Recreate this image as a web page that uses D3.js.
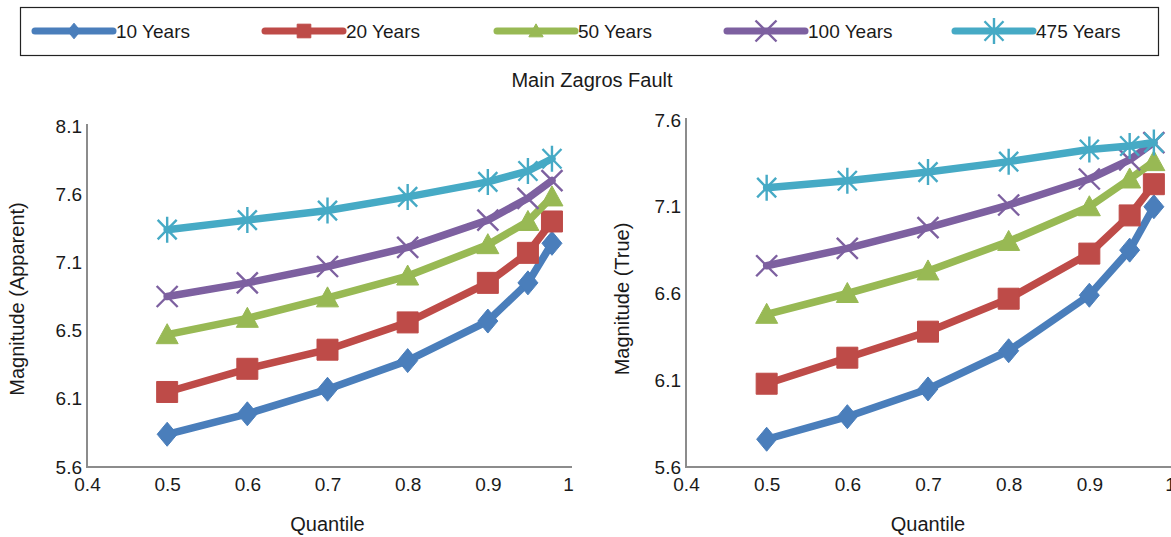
<!DOCTYPE html>
<html>
<head>
<meta charset="utf-8">
<script src="https://cdn.jsdelivr.net/npm/d3@7/dist/d3.min.js"></script>
<style>
  html, body { margin: 0; padding: 0; background: #fff; }
  svg { display: block; font-family: "Liberation Sans", Arial, sans-serif; }
</style>
</head>
<body>
<svg id="chart" width="1171" height="537"></svg>
<script>
// ---------- DATA ----------
const quantiles = [0.5, 0.6, 0.7, 0.8, 0.9, 0.95, 0.98];
const seriesNames = ["10 Years", "20 Years", "50 Years", "100 Years", "475 Years"];

// Left panel: Magnitude (Apparent)
const apparent10  = [5.84, 5.99, 6.17, 6.38, 6.67, 6.95, 7.24];
const apparent20  = [6.15, 6.32, 6.46, 6.66, 6.95, 7.17, 7.40];
const apparent50  = [6.57, 6.69, 6.84, 7.00, 7.23, 7.40, 7.58];
const apparent100 = [6.85, 6.95, 7.07, 7.21, 7.41, 7.57, 7.70];
const apparent475 = [7.34, 7.41, 7.48, 7.58, 7.69, 7.77, 7.86];

// Right panel: Magnitude (True)
const true10  = [5.76, 5.89, 6.05, 6.27, 6.59, 6.85, 7.10];
const true20  = [6.08, 6.23, 6.38, 6.57, 6.83, 7.05, 7.23];
const true50  = [6.48, 6.60, 6.73, 6.90, 7.10, 7.26, 7.36];
const true100 = [6.76, 6.86, 6.98, 7.11, 7.26, 7.37, 7.47];
const true475 = [7.21, 7.25, 7.30, 7.36, 7.43, 7.45, 7.47];

// Tick labels
const xTicks = [0.4, 0.5, 0.6, 0.7, 0.8, 0.9, 1.0];
const xTickLabels = ["0.4", "0.5", "0.6", "0.7", "0.8", "0.9", "1"];
const leftYTicks = [5.6, 6.1, 6.6, 7.1, 7.6, 8.1];
const leftYTickLabels = ["5.6", "6.1", "6.5", "7.1", "7.6", "8.1"];
const rightYTicks = [5.6, 6.1, 6.6, 7.1, 7.6];
const rightYTickLabels = ["5.6", "6.1", "6.6", "7.1", "7.6"];

const title = "Main Zagros Fault";
const xTitle = "Quantile";
const leftYTitle = "Magnitude (Apparent)";
const rightYTitle = "Magnitude (True)";

// ---------- STYLE ----------
const colors = ["#4a7ebb", "#be4b48", "#98b954", "#7d60a0", "#46aac5"];
const markerKinds = ["diamond", "square", "triangle", "x", "asterisk"];
const axisColor = "#8c8c8c";
const textColor = "#1a1a1a";
const tickFont = 19;

const svg = d3.select("#chart");

function markerPath(kind, s) {
  switch (kind) {
    case "diamond": { const w = 10 * s, h = 12 * s; return `M0,${-h}L${w},0L0,${h}L${-w},0Z`; }
    case "square": { const a = 10.5 * s; return `M${-a},${-a}H${a}V${a}H${-a}Z`; }
    case "triangle": { const w = 11 * s, h = 10 * s; return `M0,${-h * 1.1}L${w},${h * 0.9}L${-w},${h * 0.9}Z`; }
    case "x": { const a = 10.5 * s; return `M${-a},${-a}L${a},${a}M${-a},${a}L${a},${-a}`; }
    case "asterisk": { const a = 9.5 * s, h = 13 * s; return `M0,${-h}V${h}M${-a},${-h * 0.75}L${a},${h * 0.75}M${-a},${h * 0.75}L${a},${-h * 0.75}`; }
  }
}
function styleMarker(sel, kind, color) {
  if (kind === "x" || kind === "asterisk") {
    sel.attr("fill", "none").attr("stroke", color).attr("stroke-width", 2.4);
  } else {
    sel.attr("fill", color).attr("stroke", color).attr("stroke-width", 1);
  }
}

// ---------- LEGEND ----------
svg.append("rect").attr("x", 20.5).attr("y", 7.5).attr("width", 1138).attr("height", 48)
  .attr("fill", "#fff").attr("stroke", "#222").attr("stroke-width", 1.2);
const legendX = [35, 265, 497, 727, 955];
seriesNames.forEach((name, i) => {
  const g = svg.append("g").attr("transform", `translate(${legendX[i]},31)`);
  g.append("line").attr("x1", 0).attr("x2", 78).attr("y1", 0).attr("y2", 0)
    .attr("stroke", colors[i]).attr("stroke-width", 7).attr("stroke-linecap", "round");
  const lk = markerKinds[i];
  const ls = (lk === "x" || lk === "asterisk") ? 1.0 : 0.65;
  styleMarker(g.append("path").attr("d", markerPath(lk, ls)).attr("transform", "translate(39,0)"), lk, colors[i]);
  g.append("text").attr("x", 81).attr("y", 0).attr("dy", "0.35em")
    .attr("font-size", 19).attr("fill", textColor).text(name);
});

// Title
svg.append("text").attr("x", 592).attr("y", 87).attr("text-anchor", "middle")
  .attr("font-size", 20).attr("fill", textColor).text(title);

// ---------- PANELS ----------
function drawPanel(cfg) {
  const x = d3.scaleLinear().domain([0.4, 1.0]).range([cfg.x0, cfg.x1]);
  const y = d3.scaleLinear().domain(cfg.yDomain).range([467, cfg.yTop]);
  const g = svg.append("g");

  const yAxis = d3.axisLeft(y).tickValues(cfg.yTicks)
    .tickFormat((d, i) => cfg.yTickLabels[i]).tickSize(0).tickPadding(5);
  const ya = g.append("g").attr("transform", `translate(${cfg.x0},0)`).call(yAxis);
  ya.select(".domain").remove();
  ya.selectAll("text").attr("font-size", tickFont).attr("fill", textColor)
    .attr("font-family", "Liberation Sans, Arial, sans-serif");

  const xAxis = d3.axisBottom(x).tickValues(xTicks)
    .tickFormat((d, i) => xTickLabels[i]).tickSize(0).tickPadding(11);
  const xa = g.append("g").attr("transform", `translate(0,467)`).call(xAxis);
  xa.select(".domain").remove();
  xa.selectAll("text").attr("font-size", tickFont).attr("fill", textColor)
    .attr("font-family", "Liberation Sans, Arial, sans-serif");

  g.append("line").attr("x1", cfg.x0).attr("x2", cfg.x0).attr("y1", y(cfg.yDomain[1]) - 2).attr("y2", 468)
    .attr("stroke", axisColor).attr("stroke-width", 2);
  g.append("line").attr("x1", cfg.x0 - 1).attr("x2", cfg.xAxisEnd).attr("y1", 467).attr("y2", 467)
    .attr("stroke", axisColor).attr("stroke-width", 2);

  g.append("text").attr("x", (cfg.x0 + cfg.x1) / 2).attr("y", 531)
    .attr("text-anchor", "middle").attr("font-size", 20).attr("fill", textColor).text(xTitle);
  g.append("text").attr("transform", `translate(${cfg.yTitleX},299) rotate(-90)`)
    .attr("text-anchor", "middle").attr("font-size", 20).attr("fill", textColor).text(cfg.yTitle);

  const line = d3.line().x((d, i) => x(quantiles[i])).y(d => y(d));
  cfg.series.forEach((vals, si) => {
    const sg = g.append("g");
    sg.append("path").attr("d", line(vals)).attr("fill", "none")
      .attr("stroke", colors[si]).attr("stroke-width", 7.5)
      .attr("stroke-linejoin", "round").attr("stroke-linecap", "round");
    vals.forEach((v, i) => {
      const p = sg.append("path").attr("d", markerPath(markerKinds[si], 1))
        .attr("transform", `translate(${x(quantiles[i])},${y(v)})`);
      styleMarker(p, markerKinds[si], colors[si]);
    });
  });
}

drawPanel({
  x0: 87, x1: 568, xAxisEnd: 572, yDomain: [5.6, 8.1], yTop: 126,
  yTicks: leftYTicks, yTickLabels: leftYTickLabels,
  yTitle: leftYTitle, yTitleX: 24,
  series: [apparent10, apparent20, apparent50, apparent100, apparent475]
});
drawPanel({
  x0: 686, x1: 1170, xAxisEnd: 1171, yDomain: [5.6, 7.6], yTop: 120,
  yTicks: rightYTicks, yTickLabels: rightYTickLabels,
  yTitle: rightYTitle, yTitleX: 629,
  series: [true10, true20, true50, true100, true475]
});
</script>
</body>
</html>
